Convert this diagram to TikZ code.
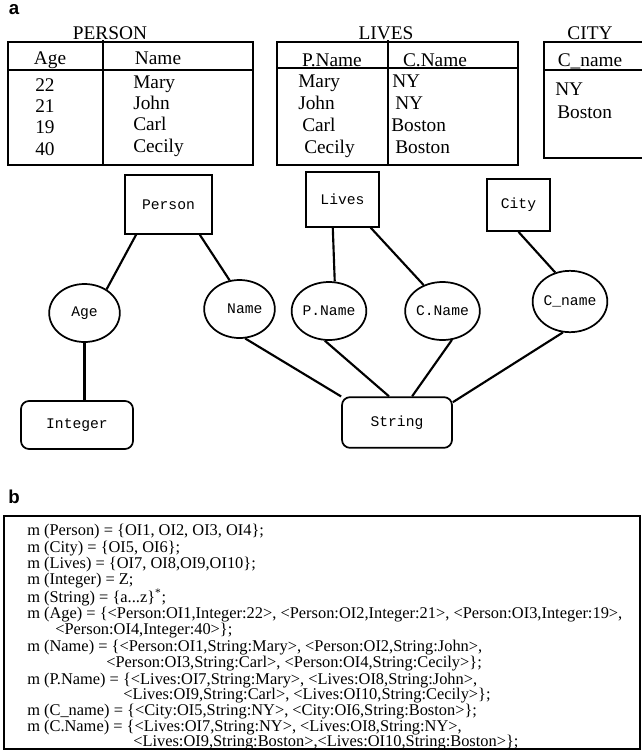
\documentclass[tikz,border=0pt]{standalone}
\usepackage{fontspec}
\setmainfont{Liberation Serif}
\newfontfamily\monofont{Liberation Mono}
\newfontfamily\panelfont{Liberation Sans}
\usetikzlibrary{shapes.geometric,positioning}

\begin{document}
\begin{tikzpicture}[
    x=0.75pt, y=-0.75pt,
    entity/.style={draw, line width=1.3pt, inner sep=0pt, font=\monofont\fontsize{11}{13}\selectfont},
    attr/.style={draw, ellipse, line width=1.3pt, minimum width=53pt, minimum height=43.5pt, inner sep=0pt, font=\monofont\fontsize{11}{13}\selectfont},
    basetype/.style={draw, rounded corners=6pt, line width=1.3pt, inner sep=0pt, font=\monofont\fontsize{11}{13}\selectfont},
    link/.style={line width=1.6pt},
    grid/.style={line width=1.4pt},
    tabtitle/.style={anchor=base, inner sep=0pt, font=\fontsize{14.5}{17}\selectfont},
    cell/.style={anchor=base west, inner sep=0pt, font=\fontsize{14.5}{17}\selectfont},
    mline/.style={anchor=base west, inner sep=0pt, font=\fontsize{12.3}{14}\selectfont},
    panel/.style={inner sep=0pt, font=\panelfont\bfseries\fontsize{14}{16}\selectfont}
]
    \useasboundingbox (0,0) rectangle (642,751);

    % Panel labels
    \node[panel] (panela) at (14,10) {a};
    \node[panel] (panelb) at (14,497) {b};

    % Table PERSON
    \node[tabtitle] (ptitle) at (110,39) {PERSON};
    \draw[grid] (8,42) rectangle (253,165);
    \draw[grid] (7,70) -- (253,70);
    \draw[grid] (103,40) -- (103,165);
    \node[cell, anchor=base] (phage) at (50,64) {Age};
    \node[cell, anchor=base] (phname) at (158,64) {Name};
    \foreach \age/\who/\yb [count=\i] in {22/Mary/88, 21/John/109, 19/Carl/130, 40/Cecily/152} {
        \node[cell] (page\i) at (35,\yb+3) {\age};
        \node[cell] (pname\i) at (133,\yb) {\who};
    }

    % Table LIVES
    \node[tabtitle] (ltitle) at (386,39) {LIVES};
    \draw[grid] (277,42) rectangle (518,165);
    \draw[grid] (277,68) -- (518,68);
    \draw[grid] (388,40) -- (388,165);
    \node[cell, anchor=base] (lhp) at (332,66) {P.Name};
    \node[cell, anchor=base] (lhc) at (435,66) {C.Name};
    \foreach \who/\wx/\town/\tx/\yb [count=\i] in {Mary/298/NY/392/87, John/298/NY/395/109, Carl/302/Boston/391/131, Cecily/304/Boston/395/153} {
        \node[cell] (lp\i) at (\wx,\yb) {\who};
        \node[cell] (lc\i) at (\tx,\yb) {\town};
    }

    % Table CITY
    \node[tabtitle] (ctitle) at (590,39) {CITY};
    \draw[grid] (642,42) -- (544,42) -- (544,158) -- (642,158);
    \draw[grid] (544,70) -- (642,70);
    \node[cell, anchor=base] (chname) at (590,66) {C\_name};
    \node[cell] (ccity1) at (555,95) {NY};
    \node[cell] (ccity2) at (557,118) {Boston};

    % Entities
    \node[entity, minimum width=65pt, minimum height=44pt] (person) at (168.5,204.5) {Person};
    \node[entity, minimum width=55pt, minimum height=41pt] (lives) at (342.5,199.5) {Lives};
    \node[entity, minimum width=47pt, minimum height=39pt] (city) at (518.5,205) {City};

    % Attributes
    \node[attr] (age) at (84.5,313) {Age};
    \node[attr] (name) at (239.5,309) {\hspace*{8pt}Name};
    \node[attr] (pname) at (329,311) {P.Name};
    \node[attr] (cname) at (442.5,311) {C.Name};
    \node[attr, minimum width=51pt, minimum height=46pt] (cityname) at (570,301.5) {C\_name};

    % Base types
    \node[basetype, minimum width=84pt, minimum height=36pt] (integer) at (77,425) {Integer};
    \node[basetype, minimum width=82.5pt, minimum height=38pt] (string) at (397,422.5) {String};

    % Links
    \draw[link] (person.223) -- (age.47);
    \draw[link] (person.316) -- (name.109);
    \draw[link] (age.south) -- (age.south |- integer.north);
    \draw[link] (lives.251) -- (pname.79);
    \draw[link] (lives.315) -- (cname.126);
    \draw[link] (city.south) -- (cityname.117);
    \draw[link] (name.281) -- (string.155);
    \draw[link] (pname.262) -- (string.107);
    \draw[link] (cname.288) -- (string.60);
    \draw[link] (cityname.257) -- (string.20);

    % Panel b: mappings
    \draw[line width=1pt] (4,516) rectangle (640,749);
    \node[mline] (mperson) at (27,535) {m (Person) = \{OI1, OI2, OI3, OI4\};};
    \node[mline] (mcity) at (27,552) {m (City) = \{OI5, OI6\};};
    \node[mline] (mlives) at (27,568) {m (Lives) = \{OI7, OI8,OI9,OI10\};};
    \node[mline] (minteger) at (27,584) {m (Integer) = Z;};
    \node[mline] (mstring) at (27,602) {m (String) = \{a...z\}\textsuperscript{*};};
    \node[mline] (mage) at (27,618) {m (Age) = \{<Person:OI1,Integer:22>, <Person:OI2,Integer:21>, <Person:OI3,Integer:19>,};
    \node[mline] (mage2) at (55,634) {<Person:OI4,Integer:40>\};};
    \node[mline] (mname) at (27,651) {m (Name) = \{<Person:OI1,String:Mary>, <Person:OI2,String:John>,};
    \node[mline] (mname2) at (106,667) {<Person:OI3,String:Carl>, <Person:OI4,String:Cecily>\};};
    \node[mline] (mpname) at (27,684) {m (P.Name) = \{<Lives:OI7,String:Mary>, <Lives:OI8,String:John>,};
    \node[mline] (mpname2) at (123,699) {<Lives:OI9,String:Carl>, <Lives:OI10,String:Cecily>\};};
    \node[mline] (mcityname) at (27,715) {m (C\_name) = \{<City:OI5,String:NY>, <City:OI6,String:Boston>\};};
    \node[mline] (mcname) at (27,731) {m (C.Name) = \{<Lives:OI7,String:NY>, <Lives:OI8,String:NY>,};
    \node[mline] (mcname2) at (133,746) {<Lives:OI9,String:Boston>,<Lives:OI10,String:Boston>\};};
\end{tikzpicture}
\end{document}
